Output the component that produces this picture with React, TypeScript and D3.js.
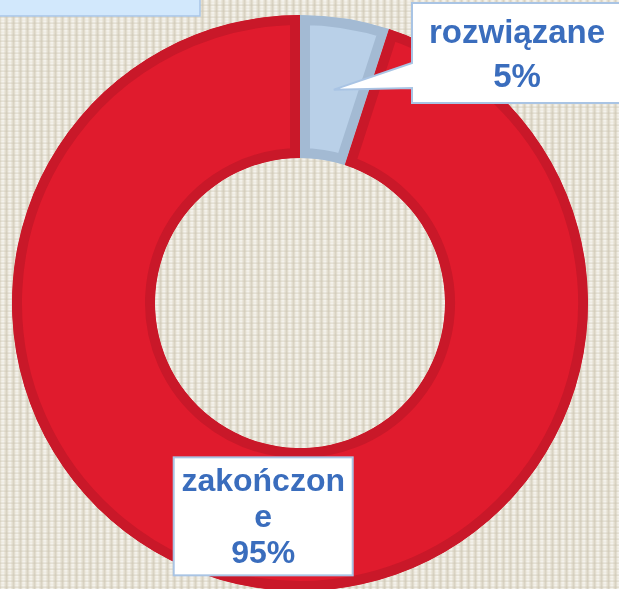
import React from "react";
import * as d3 from "d3";

// chart data
const categories = ["rozwiązane", "zakończone"];
const values = [5, 95];
const labelLines = [["rozwiązane", "5%"], ["zakończon", "e", "95%"]];
const fills = ["#b9d0e8", "#e01b2d"];
const borders = ["#a3bad3", "#c91829"];

const W = 619;
const H = 589;

const App = () => {
  const cx = 300;
  const cy = 303;
  const outerR = 288;
  const innerR = 145;

  const pie = d3.pie<number>().sort(null).value((d) => d);
  const arcs = pie(values);
  const arc = d3.arc<d3.PieArcDatum<number>>().innerRadius(innerR).outerRadius(outerR);
  const mid = d3.arc<d3.PieArcDatum<number>>().innerRadius(216).outerRadius(216);

  const font = '"Liberation Sans", Arial, sans-serif';
  const textColor = "#3a6dbd";

  return (
    <svg width={W} height={H} style={{ position: "fixed", left: 0, top: 0 }}>
      <defs>
        <pattern id="linen" width="7" height="6" patternUnits="userSpaceOnUse">
          <rect width="7" height="6" fill="#d8d2c2" />
          <rect x="0.5" y="0" width="5" height="6" fill="#ece8dd" />
          <rect x="1.5" y="0" width="2.5" height="6" fill="#f4f2ec" />
          <rect x="0" y="4.6" width="7" height="1" fill="#cec7b4" opacity="0.7" />
          <rect x="0" y="1.8" width="7" height="0.6" fill="#ddd7c7" opacity="0.6" />
        </pattern>
        {arcs.map((a, i) => (
          <clipPath id={"clip" + i} key={i}>
            <path d={arc(a) || ""} />
          </clipPath>
        ))}
      </defs>
      <rect width={W} height={H} fill="url(#linen)" />

      {/* header box, cut by the top edge */}
      <rect x={-2} y={-2} width={202} height={18} fill="#d2e8fc" stroke="#a9c6e8" strokeWidth={1.5} />

      <g transform={`translate(${cx},${cy})`}>
        {arcs.map((a, i) => (
          <path
            key={categories[i]}
            d={arc(a) || ""}
            fill={fills[i]}
            stroke={borders[i]}
            strokeWidth={20}
            clipPath={`url(#clip${i})`}
          />
        ))}

        {/* label for the small slice: callout box with pointer */}
        {(() => {
          const [tx, ty] = mid.centroid(arcs[0]);
          const bx = 112;
          const by = -300;
          const bw = 210;
          const bh = 100;
          const callout =
            `M${bx},${by} H${bx + bw} V${by + bh} H${bx} V${by + 85} L${tx},${ty} L${bx},${by + 60} Z`;
          return (
            <g>
              <path d={callout} fill="#ffffff" stroke="#a9c4e4" strokeWidth={2} strokeLinejoin="miter" />
              {labelLines[0].map((t, j) => (
                <text
                  key={j}
                  x={bx + bw / 2}
                  y={by + 40 + j * 44}
                  textAnchor="middle"
                  fontFamily={font}
                  fontWeight="bold"
                  fontSize={33}
                  fill={textColor}
                >
                  {t}
                </text>
              ))}
            </g>
          );
        })()}

        {/* label for the large slice */}
        {(() => {
          const [tx, ty] = mid.centroid(arcs[1]);
          const bw = 179;
          const bh = 118;
          return (
            <g>
              <rect x={tx - bw / 2 - 3} y={ty - bh / 2} width={bw} height={bh} fill="#ffffff" stroke="#a9c4e4" strokeWidth={2} />
              {labelLines[1].map((t, j) => (
                <text
                  key={j}
                  x={tx - 3}
                  y={ty - bh / 2 + 34 + j * 36}
                  textAnchor="middle"
                  fontFamily={font}
                  fontWeight="bold"
                  fontSize={32}
                  fill={textColor}
                >
                  {t}
                </text>
              ))}
            </g>
          );
        })()}
      </g>
    </svg>
  );
};

export default App;
